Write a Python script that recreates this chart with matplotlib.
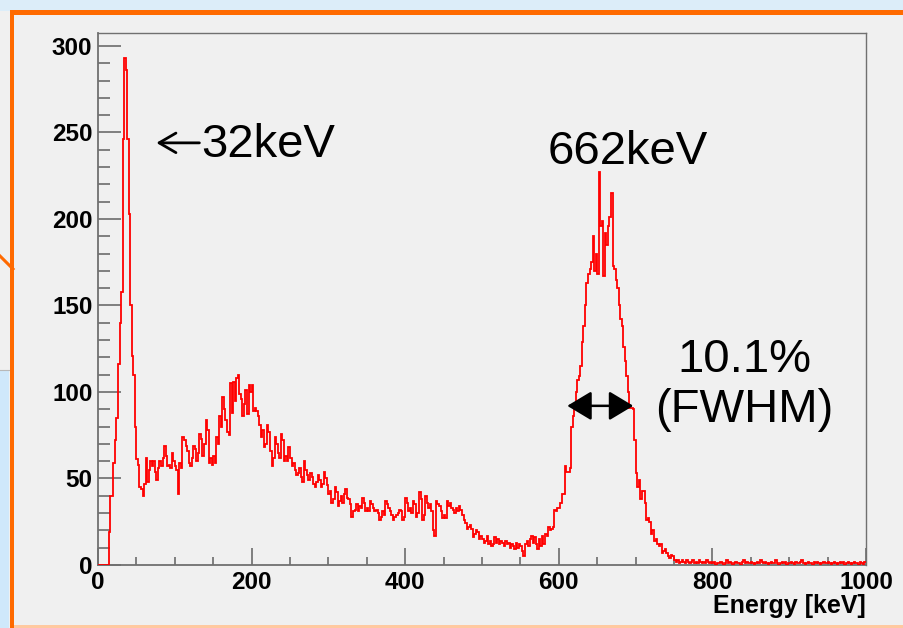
import numpy as np
import matplotlib
matplotlib.use("Agg")
import matplotlib.pyplot as plt
from matplotlib.patches import Rectangle
from matplotlib.lines import Line2D

# ---------------- data (2 keV bins, 0-1000 keV) ----------------
bin_width_kev = 2
counts_000_050 = [0, 0, 0, 0, 0, 0, 0, 19, 40, 40, 59, 72, 85, 116, 140, 158, 246, 293, 286, 246, 203, 150, 121, 110, 80]
counts_050_100 = [61, 58, 45, 44, 40, 47, 62, 48, 55, 60, 57, 60, 54, 49, 56, 60, 57, 62, 69, 63, 57, 58, 56, 65, 60]
counts_100_150 = [57, 55, 41, 59, 56, 74, 72, 69, 66, 59, 57, 62, 69, 67, 60, 65, 76, 73, 63, 70, 84, 78, 59, 62, 58]
counts_150_200 = [63, 59, 74, 70, 86, 80, 97, 90, 84, 77, 75, 105, 88, 106, 95, 108, 110, 99, 96, 86, 93, 101, 87, 104, 100]
counts_200_250 = [104, 89, 91, 89, 86, 81, 74, 78, 68, 70, 81, 77, 66, 57, 62, 74, 70, 65, 62, 76, 72, 60, 63, 60, 68]
counts_250_300 = [62, 57, 59, 55, 52, 53, 56, 51, 48, 60, 55, 52, 49, 53, 51, 47, 45, 48, 52, 49, 45, 47, 54, 50, 46]
counts_300_350 = [41, 43, 36, 38, 45, 42, 34, 37, 40, 36, 41, 44, 39, 38, 35, 28, 31, 32, 35, 31, 34, 33, 39, 36, 31]
counts_350_400 = [33, 31, 37, 35, 33, 31, 32, 30, 26, 28, 31, 29, 37, 35, 33, 31, 29, 26, 28, 29, 30, 32, 31, 26, 28]
counts_400_450 = [39, 36, 31, 33, 30, 37, 35, 28, 30, 42, 38, 26, 29, 40, 36, 33, 35, 31, 20, 17, 37, 35, 34, 31, 27]
counts_450_500 = [29, 27, 37, 34, 36, 33, 32, 30, 33, 31, 34, 32, 29, 26, 24, 21, 22, 23, 21, 16, 18, 20, 19, 15, 17]
counts_500_550 = [15, 13, 14, 17, 12, 14, 11, 12, 16, 13, 15, 12, 14, 13, 11, 14, 12, 13, 10, 12, 11, 9, 13, 10, 12]
counts_550_600 = [11, 8, 5, 12, 14, 11, 15, 17, 13, 16, 12, 9, 15, 11, 17, 12, 18, 17, 22, 20, 21, 22, 32, 31, 33]
counts_600_650 = [33, 36, 41, 41, 57, 54, 54, 56, 80, 86, 92, 100, 107, 109, 115, 129, 138, 150, 163, 168, 171, 175, 190, 170, 180]
counts_650_700 = [168, 227, 196, 199, 167, 192, 185, 196, 201, 215, 173, 171, 165, 160, 150, 142, 138, 126, 118, 109, 100, 91, 91, 90, 72]
counts_700_750 = [53, 45, 49, 38, 43, 43, 36, 26, 27, 25, 18, 20, 14, 15, 12, 11, 12, 7, 8, 9, 7, 5, 4, 6, 5]
counts_750_800 = [3, 2, 3, 1, 2, 3, 2, 1, 3, 2, 1, 2, 3, 1, 2, 1, 3, 2, 1, 2, 1, 3, 2, 1, 2]
counts_800_850 = [1, 2, 0, 1, 1, 2, 1, 0, 1, 3, 1, 2, 1, 0, 1, 2, 1, 1, 0, 2, 3, 1, 2, 1, 1]
counts_850_900 = [2, 1, 0, 1, 2, 1, 3, 2, 1, 2, 1, 0, 1, 2, 1, 1, 3, 1, 0, 1, 2, 1, 2, 0, 1]
counts_900_950 = [1, 2, 1, 0, 2, 1, 1, 2, 3, 1, 0, 1, 2, 1, 1, 0, 2, 1, 2, 1, 0, 1, 2, 1, 1]
counts_950_1000 = [2, 1, 0, 1, 2, 1, 0, 1, 2, 1, 2, 0, 1, 2, 1, 0, 1, 2, 1, 1, 0, 2, 1, 0, 2]

x_major_ticks = [0, 200, 400, 600, 800, 1000]
y_major_ticks = [0, 50, 100, 150, 200, 250, 300]
x_label = "Energy [keV]"
peak1_label = "32keV"
peak1_arrow_from_kev = 132
peak1_arrow_to_kev = 76
peak1_arrow_level = 244
peak2_label = "662keV"
fwhm_label = "10.1%\n(FWHM)"
fwhm_left_kev = 611
fwhm_right_kev = 697
fwhm_level = 92

counts = np.array(counts_000_050 + counts_050_100 + counts_100_150 + counts_150_200 +
                  counts_200_250 + counts_250_300 + counts_300_350 + counts_350_400 +
                  counts_400_450 + counts_450_500 + counts_500_550 + counts_550_600 +
                  counts_600_650 + counts_650_700 + counts_700_750 + counts_750_800 +
                  counts_800_850 + counts_850_900 + counts_900_950 + counts_950_1000, dtype=float)
edges = np.arange(len(counts) + 1) * bin_width_kev

# ---------------- figure ----------------
W, H = 904, 628
fig = plt.figure(figsize=(W / 100, H / 100), dpi=100)
bg = "#f0f0f0"
fig.patch.set_facecolor(bg)

def px_rect(x0, y0, x1, y1, color, z=0):
    fig.patches.append(Rectangle((x0 / W, 1 - y1 / H), (x1 - x0) / W, (y1 - y0) / H,
                                 transform=fig.transFigure, facecolor=color,
                                 edgecolor="none", zorder=z))

def px_line(xs, ys, color, lw, z=1):
    fig.lines.append(Line2D([x / W for x in xs], [1 - y / H for y in ys],
                            transform=fig.transFigure, color=color, lw=lw, zorder=z))

orange = "#ff6a00"
px_rect(0, 0, W, 11, "#dcedf9")            # top strip
px_rect(0, 370, 9, H, "#cfe8fb")           # left bottom strip
px_line([0, 9], [370, 370], "#b8b8b8", 0.8)
px_rect(10, 10, W, 15, orange, 2)          # top orange bar
px_rect(10, 10, 14, H, orange, 2)          # left orange bar
px_line([0, 13], [256, 269], orange, 2.2, 2)
px_rect(14, 625, W, H, "#ffc9a0", 1)       # faint bottom line

ax = fig.add_axes([98 / W, (H - 565) / H, 768 / W, 532 / H])
ax.set_facecolor(bg)
ax.stairs(counts, edges, color="#ff0000", lw=1.3, baseline=None, zorder=3)

ax.set_xlim(0, 1000)
ax.set_ylim(0, 307.5)

ax.set_xticks(x_major_ticks)
ax.set_xticks(np.arange(0, 1001, 50), minor=True)
ax.set_yticks(y_major_ticks)
ax.set_yticks(np.arange(0, 308, 10), minor=True)

tick_font = dict(family=["Liberation Sans", "DejaVu Sans"], weight="bold", size=17.5)
ax.set_xticklabels([str(v) for v in x_major_ticks], fontdict=tick_font)
ax.set_yticklabels([str(v) for v in y_major_ticks], fontdict=tick_font)

tick_col = "#606060"
ax.tick_params(axis="x", which="major", direction="in", length=12, width=1.1, color=tick_col, pad=4)
ax.tick_params(axis="x", which="minor", direction="in", length=6, width=1.1, color=tick_col)
ax.tick_params(axis="y", which="major", direction="in", length=16.5, width=1.1, color=tick_col, pad=4)
ax.tick_params(axis="y", which="minor", direction="in", length=8.5, width=1.1, color=tick_col)

for side, s in ax.spines.items():
    s.set_color("#707070")
    s.set_linewidth(1.3 if side in ("left", "bottom") else 1.0)

label_font = dict(family=["Liberation Sans", "DejaVu Sans"], weight="bold", size=18)
ax.set_xlabel(x_label, fontdict=label_font, loc="right", labelpad=0)

ann_font = dict(family=["Liberation Sans", "DejaVu Sans"], size=34, color="black")
ax.annotate("", xy=(peak1_arrow_to_kev, peak1_arrow_level),
            xytext=(peak1_arrow_from_kev, peak1_arrow_level),
            arrowprops=dict(arrowstyle="->, head_length=0.55, head_width=0.32",
                            color="black", lw=2.0, mutation_scale=22,
                            shrinkA=0, shrinkB=0), zorder=5)
ax.text(134, 243, peak1_label, ha="left", va="center", **ann_font)
ax.text(690, 239, peak2_label, ha="center", va="center", **ann_font)
ax.text(841, 104, fwhm_label, ha="center", va="center", linespacing=1.2, **ann_font)

ax.annotate("", xy=(fwhm_left_kev, fwhm_level), xytext=(fwhm_right_kev, fwhm_level),
            arrowprops=dict(arrowstyle="<|-|>, head_length=0.5, head_width=0.3",
                            color="black", lw=1.8,
                            mutation_scale=30, shrinkA=0, shrinkB=0), zorder=5)

fig.savefig("out.png", dpi=100, facecolor=fig.get_facecolor())
